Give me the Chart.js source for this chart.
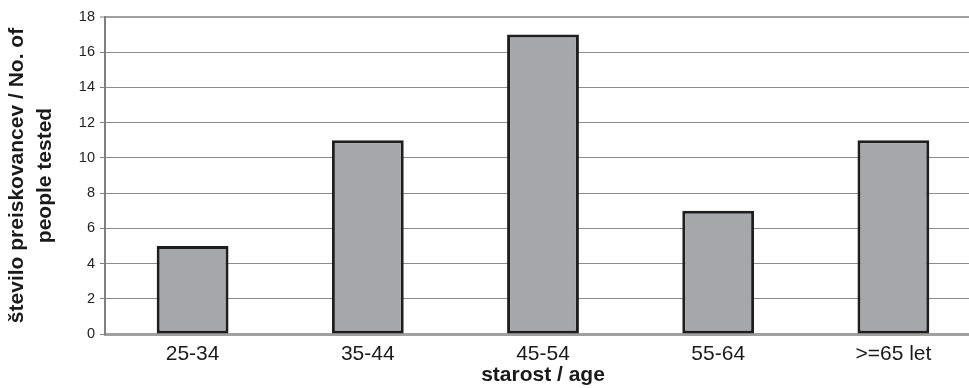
<!DOCTYPE html>
<html>
<head>
<meta charset="utf-8">
<script src="https://cdn.jsdelivr.net/npm/chart.js@4/dist/chart.umd.min.js"></script>
<style>
  html, body { margin: 0; padding: 0; overflow: hidden; background: #fff; }
  #wrap { width: 981px; height: 388px; }
</style>
</head>
<body>
<div id="wrap"><canvas id="c" width="981" height="388"></canvas></div>
<script>
const categories = ["25-34", "35-44", "45-54", "55-64", ">=65 let"];
const values = [5, 11, 17, 7, 11];
const yTitle = ["število preiskovancev / No. of", "people tested"];
const xTitle = "starost / age";
const yMin = 0, yMax = 18, yStep = 2;

new Chart(document.getElementById('c'), {
  type: 'bar',
  data: {
    labels: categories,
    datasets: [{
      data: values,
      backgroundColor: '#a6a7aa',
      borderColor: '#1e1e1e',
      borderWidth: 3,
      borderSkipped: false,
      barPercentage: 0.41,
      categoryPercentage: 1.0
    }]
  },
  options: {
    responsive: false,
    devicePixelRatio: 1,
    animation: false,
    layout: { padding: { top: 17, left: 0, right: 0, bottom: 0 } },
    plugins: { legend: { display: false }, tooltip: { enabled: false } },
    scales: {
      x: {
        afterFit(s) { s.height = 54; },
        grid: { display: false, drawTicks: false },
        border: { display: true, color: '#a0a0a0', width: 3 },
        ticks: { color: '#1a1a1a', padding: 8, font: { family: 'Liberation Sans, Arial, sans-serif', size: 21 } },
        title: {
          display: true, text: xTitle, color: '#1a1a1a',
          font: { family: 'Liberation Sans, Arial, sans-serif', size: 21, weight: 'bold', lineHeight: 1.2 },
          padding: { top: 0, bottom: 0 }
        }
      },
      y: {
        min: yMin, max: yMax,
        afterFit(s) { s.width = 105; },
        ticks: { stepSize: yStep, color: '#222', padding: 5, font: { family: 'Liberation Sans, Arial, sans-serif', size: 14.5 } },
        grid: {
          color: (ctx) => ctx.tick && ctx.tick.value === yMax ? '#a0a0a0' : '#8c8c8c',
          lineWidth: (ctx) => ctx.tick && ctx.tick.value === yMax ? 2 : 1,
          tickLength: 5,
          tickColor: '#808080',
          tickWidth: 1
        },
        border: { display: true, color: '#808080', width: 2 },
        title: {
          display: true, text: yTitle, color: '#1a1a1a',
          font: { family: 'Liberation Sans, Arial, sans-serif', size: 21, weight: 'bold', lineHeight: 1.35 },
          padding: { top: 3, bottom: 0 }
        }
      }
    }
  }
});
</script>
</body>
</html>
